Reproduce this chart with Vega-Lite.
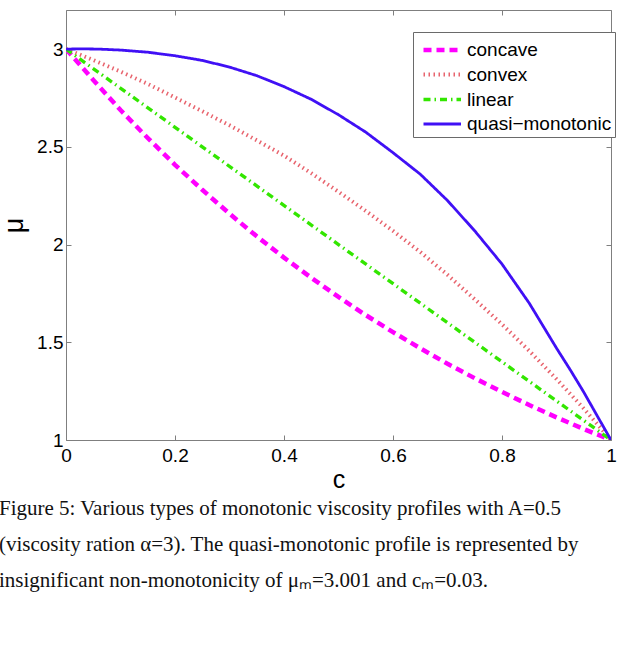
{
  "$schema": "https://vega.github.io/schema/vega-lite/v6.json",
  "width": 545,
  "height": 430,
  "autosize": {"type": "none"},
  "padding": {"left": 66, "top": 10, "right": 15, "bottom": 215},
  "background": "white",
  "config": {
    "view": {"stroke": "#7f7f7f", "strokeWidth": 1},
    "font": "Liberation Sans",
    "axis": {"grid": false, "domain": false, "tickColor": "#7f7f7f", "tickSize": -5, "labelColor": "#000", "labelFont": "Liberation Sans", "labelFontSize": 19, "titleFont": "Liberation Sans", "titleFontWeight": "normal", "titleColor": "#000", "labelFlush": false, "labelOverlap": false}
  },
  "title": {
    "text": [
      "Figure 5: Various types of monotonic viscosity profiles with A=0.5",
      "(viscosity ration α=3). The quasi-monotonic profile is represented by",
      "insignificant non-monotonicity of μₘ=3.001 and cₘ=0.03."
    ],
    "orient": "bottom",
    "anchor": "start",
    "frame": "group",
    "dx": -67,
    "offset": 6,
    "font": "Liberation Serif",
    "fontSize": 21,
    "fontWeight": "normal",
    "lineHeight": 36,
    "color": "#111"
  },
  "data": {
    "values": [
      {"c": 0, "mu": 3.0, "s": "concave"},
      {"c": 0.05, "mu": 2.842, "s": "concave"},
      {"c": 0.1, "mu": 2.688, "s": "concave"},
      {"c": 0.15, "mu": 2.545, "s": "concave"},
      {"c": 0.2, "mu": 2.408, "s": "concave"},
      {"c": 0.25, "mu": 2.28, "s": "concave"},
      {"c": 0.3, "mu": 2.158, "s": "concave"},
      {"c": 0.35, "mu": 2.042, "s": "concave"},
      {"c": 0.4, "mu": 1.933, "s": "concave"},
      {"c": 0.45, "mu": 1.83, "s": "concave"},
      {"c": 0.5, "mu": 1.732, "s": "concave"},
      {"c": 0.55, "mu": 1.639, "s": "concave"},
      {"c": 0.6, "mu": 1.552, "s": "concave"},
      {"c": 0.65, "mu": 1.469, "s": "concave"},
      {"c": 0.7, "mu": 1.39, "s": "concave"},
      {"c": 0.75, "mu": 1.316, "s": "concave"},
      {"c": 0.8, "mu": 1.246, "s": "concave"},
      {"c": 0.85, "mu": 1.179, "s": "concave"},
      {"c": 0.9, "mu": 1.116, "s": "concave"},
      {"c": 0.95, "mu": 1.056, "s": "concave"},
      {"c": 1, "mu": 1.0, "s": "concave"},
      {"c": 0, "mu": 3.0, "s": "convex"},
      {"c": 0.05, "mu": 2.944, "s": "convex"},
      {"c": 0.1, "mu": 2.885, "s": "convex"},
      {"c": 0.15, "mu": 2.822, "s": "convex"},
      {"c": 0.2, "mu": 2.752, "s": "convex"},
      {"c": 0.25, "mu": 2.682, "s": "convex"},
      {"c": 0.3, "mu": 2.61, "s": "convex"},
      {"c": 0.35, "mu": 2.533, "s": "convex"},
      {"c": 0.4, "mu": 2.455, "s": "convex"},
      {"c": 0.45, "mu": 2.365, "s": "convex"},
      {"c": 0.5, "mu": 2.27, "s": "convex"},
      {"c": 0.55, "mu": 2.172, "s": "convex"},
      {"c": 0.6, "mu": 2.07, "s": "convex"},
      {"c": 0.65, "mu": 1.962, "s": "convex"},
      {"c": 0.7, "mu": 1.845, "s": "convex"},
      {"c": 0.75, "mu": 1.72, "s": "convex"},
      {"c": 0.8, "mu": 1.592, "s": "convex"},
      {"c": 0.85, "mu": 1.456, "s": "convex"},
      {"c": 0.9, "mu": 1.312, "s": "convex"},
      {"c": 0.95, "mu": 1.161, "s": "convex"},
      {"c": 1, "mu": 1.0, "s": "convex"},
      {"c": 0, "mu": 3.0, "s": "linear"},
      {"c": 0.25, "mu": 2.5, "s": "linear"},
      {"c": 0.5, "mu": 2.0, "s": "linear"},
      {"c": 0.75, "mu": 1.5, "s": "linear"},
      {"c": 1, "mu": 1.0, "s": "linear"},
      {"c": 0, "mu": 3.0, "s": "quasi−monotonic"},
      {"c": 0.03, "mu": 3.001, "s": "quasi−monotonic"},
      {"c": 0.06, "mu": 3.0, "s": "quasi−monotonic"},
      {"c": 0.1, "mu": 2.995, "s": "quasi−monotonic"},
      {"c": 0.15, "mu": 2.984, "s": "quasi−monotonic"},
      {"c": 0.2, "mu": 2.966, "s": "quasi−monotonic"},
      {"c": 0.25, "mu": 2.942, "s": "quasi−monotonic"},
      {"c": 0.3, "mu": 2.908, "s": "quasi−monotonic"},
      {"c": 0.35, "mu": 2.864, "s": "quasi−monotonic"},
      {"c": 0.4, "mu": 2.808, "s": "quasi−monotonic"},
      {"c": 0.45, "mu": 2.743, "s": "quasi−monotonic"},
      {"c": 0.5, "mu": 2.664, "s": "quasi−monotonic"},
      {"c": 0.55, "mu": 2.575, "s": "quasi−monotonic"},
      {"c": 0.6, "mu": 2.47, "s": "quasi−monotonic"},
      {"c": 0.65, "mu": 2.36, "s": "quasi−monotonic"},
      {"c": 0.7, "mu": 2.225, "s": "quasi−monotonic"},
      {"c": 0.75, "mu": 2.07, "s": "quasi−monotonic"},
      {"c": 0.8, "mu": 1.9, "s": "quasi−monotonic"},
      {"c": 0.85, "mu": 1.7, "s": "quasi−monotonic"},
      {"c": 0.9, "mu": 1.47, "s": "quasi−monotonic"},
      {"c": 0.925, "mu": 1.36, "s": "quasi−monotonic"},
      {"c": 0.95, "mu": 1.245, "s": "quasi−monotonic"},
      {"c": 0.975, "mu": 1.122, "s": "quasi−monotonic"},
      {"c": 1, "mu": 1.0, "s": "quasi−monotonic"}
    ]
  },
  "layer": [
    {
      "mark": {"type": "line", "strokeCap": "butt", "clip": true},
      "encoding": {
        "x": {"field": "c", "type": "quantitative", "scale": {"domain": [0, 1], "nice": false, "zero": false},
              "axis": {"orient": "bottom", "values": [0, 0.2, 0.4, 0.6, 0.8, 1], "format": "~g", "labelPadding": 11, "title": "c", "titleFontSize": 25, "titlePadding": 2}},
        "y": {"field": "mu", "type": "quantitative", "scale": {"domain": [1, 3.2], "nice": false, "zero": false},
              "axis": {"orient": "left", "values": [1, 1.5, 2, 2.5, 3], "format": "~g", "labelPadding": 8, "title": "μ", "titleFontSize": 27, "titlePadding": 8}},
        "color": {"field": "s", "type": "nominal",
                  "scale": {"domain": ["concave", "convex", "linear", "quasi−monotonic"], "range": ["#ff00ff", "#e8646e", "#33e600", "#4010f5"]},
                  "legend": {"orient": "none", "legendX": 347, "legendY": 22, "title": null, "symbolType": "M-0.6,0H2.4", "symbolSize": 625,
                             "labelFontSize": 19, "labelFont": "Liberation Sans", "labelColor": "#000", "labelOffset": 21,
                             "fillColor": "white", "strokeColor": "#6a6a6a", "padding": 3, "rowPadding": 0, "symbolStrokeWidth": 4.5}},
        "strokeDash": {"field": "s", "type": "nominal",
                       "scale": {"domain": ["concave", "convex", "linear", "quasi−monotonic"], "range": [[8, 5], [1.5, 3.5], [7, 4, 1.5, 4], [1, 0]]},
                       "legend": {"orient": "none", "legendX": 347, "legendY": 22, "title": null, "symbolType": "M-0.6,0H2.4", "symbolSize": 625,
                             "labelFontSize": 19, "labelFont": "Liberation Sans", "labelColor": "#000", "labelOffset": 21,
                             "fillColor": "white", "strokeColor": "#6a6a6a", "padding": 3, "rowPadding": 0}},
        "strokeWidth": {"field": "s", "type": "nominal",
                        "scale": {"domain": ["concave", "convex", "linear", "quasi−monotonic"], "range": [4.5, 2.8, 4, 6]},
                        "legend": null}
      }
    },
    {
      "mark": {"type": "point", "opacity": 0},
      "encoding": {
        "x": {"field": "c", "type": "quantitative", "scale": {"domain": [0, 1], "nice": false, "zero": false},
              "axis": {"orient": "top", "values": [0, 0.2, 0.4, 0.6, 0.8, 1], "labels": false, "title": null}},
        "y": {"field": "mu", "type": "quantitative", "scale": {"domain": [1, 3.2], "nice": false, "zero": false},
              "axis": {"orient": "right", "values": [1, 1.5, 2, 2.5, 3], "labels": false, "title": null}}
      }
    }
  ],
  "resolve": {"axis": {"x": "independent", "y": "independent"}}
}
